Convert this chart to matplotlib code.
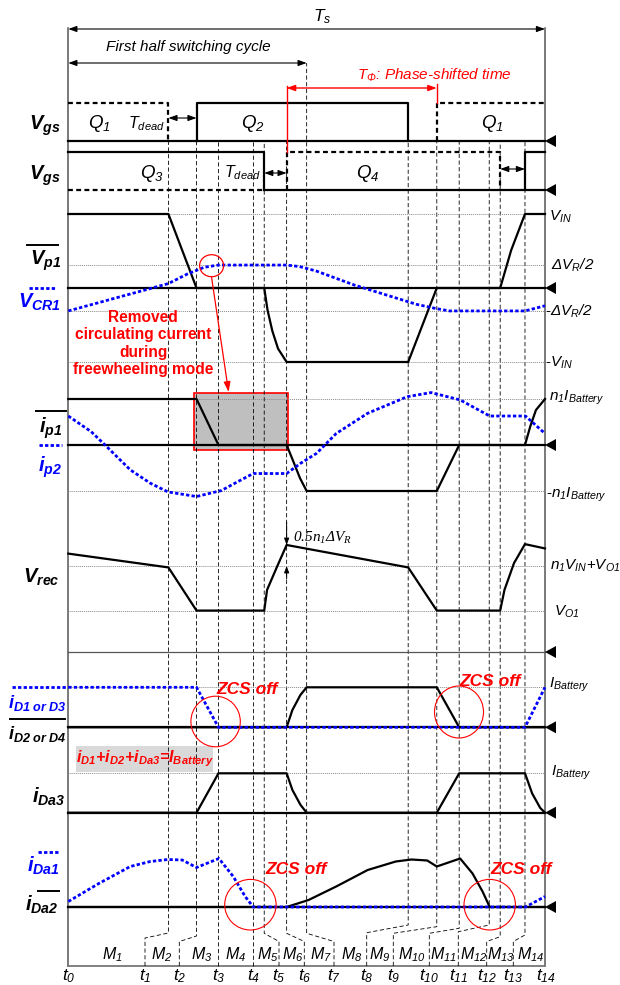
import matplotlib.pyplot as plt
from matplotlib.patches import Ellipse, Rectangle, Polygon

plt.rcParams['font.family'] = ['Liberation Sans', 'DejaVu Sans']
plt.rcParams['mathtext.fontset'] = 'custom'
plt.rcParams['mathtext.rm'] = 'Liberation Sans:italic'
plt.rcParams['mathtext.it'] = 'Liberation Sans:italic'
plt.rcParams['mathtext.bf'] = 'Liberation Sans:italic:bold'
plt.rcParams['mathtext.sf'] = 'Liberation Serif:italic'

# ---- data: time instants t0..t14 (fraction of Ts) ----
t_inst = [0, 0.210, 0.269, 0.315, 0.388, 0.411, 0.458, 0.500,
          0.713, 0.773, 0.820, 0.883, 0.906, 0.958, 1.0]

# gate signals (1 = on)
q1_a_t, q1_a_v = [0, 0.210, 0.210], [1, 1, 0]
q1_b_t, q1_b_v = [0.773, 0.773, 1], [0, 1, 1]
q2_t, q2_v = [0.269, 0.269, 0.713, 0.713], [0, 1, 1, 0]
q3_a_t, q3_a_v = [0, 0.411, 0.411], [1, 1, 0]
q3_b_t, q3_b_v = [0.958, 0.958, 1], [0, 1, 1]
q4_t, q4_v = [0.458, 0.458, 0.906, 0.906], [0, 1, 1, 0]

# primary voltage (VIN = 1) and resonant cap voltage
vp1_t = [0, .210, .269, .411, .418, .428, .440, .458, .713, .773, .906, .929, .958, 1]
vp1_v = [1, 1, 0, 0, -.30, -.58, -.82, -1, -1, 0, 0, .51, 1, 1]
vcr1_t = [0, .210, .250, .285, .315, .458, .485, .520, .600, .680, .730, .773, .800, .958, 1]
vcr1_v = [-.31, .06, .19, .28, .31, .31, .29, .23, .04, -.12, -.22, -.28, -.31, -.31, -.24]
dvr_half = 0.31

# primary currents (n1*IBattery = 1)
ip1_t = [0, .269, .315, .458, .471, .486, .500, .773, .820, .958, .969, .981, 1]
ip1_v = [1, 1, 0, 0, -.33, -.72, -1, -1, 0, 0, .40, .76, 1]
ip2_t = [0, .048, .081, .130, .172, .209, .269, .321, .355, .388, .458, .487, .521,
         .562, .628, .711, .761, .822, .884, .959, 1]
ip2_v = [.63, .29, -.04, -.54, -.83, -1.02, -1.12, -.99, -.80, -.62, -.62, -.40, -.18,
         .25, .69, 1.05, 1.14, .98, .63, .63, .25]

# rectifier voltage (n1*VIN + VO1 = 1)
vrec_t = [0, .210, .269, .411, .417, .438, .458, .713, .773, .906, .915, .935, .958, 1]
vrec_v = [1.14, .98, .48, .48, .72, .99, 1.24, .98, .48, .48, .72, 1.03, 1.25, 1.20]
vo1_lvl = 0.48

# diode currents (IBattery = 1)
id1_t, id1_v = [0, .269, .315, .958, 1], [1, 1, 0, 0, 1]
id2_t = [0, .458, .470, .487, .500, .773, .820, 1]
id2_v = [0, 0, .43, .81, 1, 1, 0, 0]
ida3_t = [0, .269, .315, .458, .470, .487, .500, .773, .820, .958, .973, .990, 1]
ida3_v = [0, 0, 1, 1, .58, .20, 0, 0, 1, 1, .49, .12, 0]
ida1_t = [0, .064, .130, .172, .209, .239, .269, .316, .346, .371, .388, .959, 1]
ida1_v = [.11, .47, .81, .91, .95, .94, .79, .97, .61, .21, 0, 0, .21]
ida2_t = [0, .458, .504, .562, .628, .687, .720, .753, .773, .822, .848, .869, .884, 1]
ida2_v = [0, 0, .14, .41, .74, .91, .95, .93, .81, .97, .67, .31, 0, 0]

m_labels = ['M%d' % i for i in range(1, 15)]
t_labels = ['t%d' % i for i in range(15)]

# ---- layout (pixels) ----
W, H = 620, 985
X0, X1 = 68.3, 545.0
SPAN = X1 - X0


def px2t(x):
    return (x - X0) / SPAN


fig = plt.figure(figsize=(6.2, 9.85), dpi=100)


def overlay():
    a = fig.add_axes([0, 0, 1, 1])
    a.set_xlim(px2t(0), px2t(W))
    a.set_ylim(H, 0)
    a.axis('off')
    a.patch.set_visible(False)
    return a


def panel(base, amp):
    a = fig.add_axes([0, 0, 1, 1])
    a.set_xlim(px2t(0), px2t(W))
    a.set_ylim((base - H) / amp, base / amp)
    a.axis('off')
    a.patch.set_visible(False)
    return a


axb = overlay()

BLK = 'black'
BLUE = '#0000ff'
RED = '#ff0000'
THICK = 1.6
DASH_K = (0, (2.2, 1.5))
DOT_B = (0, (1.2, 0.8))
THIN = (0, (5, 3))
REF = dict(color='#8a8a8a', lw=0.7, ls=(0, (1, 1)), zorder=1)

# frame lines and bottom axis
axb.plot([0, 0], [28, 966], color='#555555', lw=1.1)
axb.plot([1, 1], [28, 966], color='#555555', lw=1.1)
axb.plot([0, 1], [966, 966], color='#777777', lw=1.3)

# vertical dashed lines with dog-legs to the t labels
bot_x = [145, 179.3, 218.3, 253.3, 279, 304.3, 334, 366.7, 393.3, 429.3, 458.3, 486.7, 513.3]
kink_lo = [938, 941.5, 950, 950, 941.5, 941.5, 941.5, 932.7, 933.3, 933.3, 931.7, 941.5, 941.5]
kink_hi = [933, 936, 950, 950, 933.3, 933.3, 933.3, 925, 926.7, 928.3, 925, 936.7, 935]
for i in range(13):
    tt = t_inst[i + 1]
    top = 63 if i == 6 else 141
    bx = px2t(bot_x[i])
    axb.plot([bx, bx, tt, tt], [966, kink_lo[i], kink_hi[i], top],
             color=BLK, lw=0.6, ls=THIN)

# gray highlight box (circulating current) and sum-equation box
axb.add_patch(Rectangle((px2t(193.8), 392.7), (287.6 - 193.8) / SPAN, 57.3,
                        fc='#bfbfbf', ec=RED, lw=1.2, zorder=0))
axb.add_patch(Rectangle((px2t(76.3), 746), 136.5 / SPAN, 25.7,
                        fc='#d9d9d9', ec='none', zorder=0))

# ---- panels ----
p_g1 = panel(141, 38)
p_g1.plot([0, 1], [0, 0], color=BLK, lw=THICK)
p_g1.plot(q1_a_t, q1_a_v, color=BLK, lw=THICK, ls=DASH_K)
p_g1.plot(q1_b_t, q1_b_v, color=BLK, lw=THICK, ls=DASH_K)
p_g1.plot(q2_t, q2_v, color=BLK, lw=THICK)

p_g2 = panel(190, 38)
p_g2.plot([0, t_inst[5]], [0, 0], color=BLK, lw=THICK, ls=DASH_K)
p_g2.plot([t_inst[5], 1], [0, 0], color=BLK, lw=THICK)
p_g2.plot(q3_a_t, q3_a_v, color=BLK, lw=THICK)
p_g2.plot(q3_b_t, q3_b_v, color=BLK, lw=THICK)
p_g2.plot(q4_t, q4_v, color=BLK, lw=THICK, ls=DASH_K)

p_vp = panel(288, 74)
for lv in [1, dvr_half, -dvr_half, -1]:
    p_vp.plot([0, 1], [lv, lv], **REF)
p_vp.plot([0, 1], [0, 0], color=BLK, lw=THICK)
p_vp.plot(vp1_t, vp1_v, color=BLK, lw=THICK)
p_vp.plot(vcr1_t, vcr1_v, color=BLUE, lw=2, ls=DOT_B)

p_ip = panel(445, 46)
for lv in [1, -1]:
    p_ip.plot([0, 1], [lv, lv], **REF)
p_ip.plot([0, 1], [0, 0], color=BLK, lw=THICK)
p_ip.plot(ip1_t, ip1_v, color=BLK, lw=THICK)
p_ip.plot(ip2_t, ip2_v, color=BLUE, lw=2, ls=DOT_B)

p_vr = panel(652, 86.3)
for lv in [1, vo1_lvl]:
    p_vr.plot([0, 1], [lv, lv], **REF)
p_vr.plot([0, 1], [0, 0], color='#555555', lw=0.9)
p_vr.plot(vrec_t, vrec_v, color=BLK, lw=THICK)

p_id = panel(727.3, 40)
p_id.plot([0, 1], [1, 1], **REF)
p_id.plot([0, 1], [0, 0], color=BLK, lw=THICK)
p_id.plot(id2_t, id2_v, color=BLK, lw=THICK)
p_id.plot(id1_t, id1_v, color=BLUE, lw=2, ls=DOT_B)

p_a3 = panel(812.7, 39.4)
p_a3.plot([0, 1], [1, 1], **REF)
p_a3.plot([0, 1], [0, 0], color=BLK, lw=THICK)
p_a3.plot(ida3_t, ida3_v, color=BLK, lw=THICK)

p_da = panel(907, 50)
p_da.plot([0, 1], [0, 0], color=BLK, lw=THICK)
p_da.plot(ida2_t, ida2_v, color=BLK, lw=THICK)
p_da.plot(ida1_t, ida1_v, color=BLUE, lw=2, ls=DOT_B)

# ---- top overlay: text, arrows, circles ----
ax = overlay()


def arrow2(x1, x2, y, color=BLK, lw=0.8):
    ax.annotate('', xy=(x2, y), xytext=(x1, y),
                arrowprops=dict(arrowstyle='<|-|>,head_length=0.5,head_width=0.18',
                                color=color, lw=lw, shrinkA=0, shrinkB=0))


def tri(y):
    ax.add_patch(Polygon([(1, y), (px2t(X1 + 11), y - 6), (px2t(X1 + 11), y + 6)],
                         closed=True, fc=BLK, ec='none'))


for y in [141, 190, 288, 445, 652, 727.3, 812.7, 907]:
    tri(y)

# period / half-cycle / phase shift
ax.text(px2t(322), 17, r'$T_s$', fontsize=12.5, ha='center', va='center')
arrow2(0, 1, 29)
ax.text(px2t(188), 47, 'First half switching cycle', fontsize=11, style='italic',
        ha='center', va='center')
arrow2(0, t_inst[7], 63)
ax.text(px2t(434), 75, r'$T_{\Phi}$: Phase-shifted time', fontsize=11, style='italic',
        color=RED, ha='center', va='center')
arrow2(t_inst[6], t_inst[9], 88, color=RED, lw=1)
ax.plot([t_inst[6], t_inst[6]], [86, 152], color=RED, lw=1)
ax.plot([t_inst[9], t_inst[9]], [84, 103], color=RED, lw=1)

# gate labels
qs = dict(fontsize=13.5, ha='center', va='center')
ax.text(px2t(99), 124, r'$Q_1$', **qs)
ax.text(px2t(146), 124, r'$T_{dead}$', fontsize=11.5, ha='center', va='center')
ax.text(px2t(253), 124, r'$Q_2$', **qs)
ax.text(px2t(492.5), 124, r'$Q_1$', **qs)
ax.text(px2t(152.3), 173, r'$Q_3$', **qs)
ax.text(px2t(242), 173, r'$T_{dead}$', fontsize=11.5, ha='center', va='center')
ax.text(px2t(368), 173, r'$Q_4$', **qs)
arrow2(t_inst[1], t_inst[2], 118)
arrow2(t_inst[5], t_inst[6], 173)
arrow2(t_inst[12], t_inst[13], 169)

# left signal labels
LX = 61
lbl = dict(fontsize=14.5, ha='right', va='center')
ax.text(px2t(LX), 126, r'$\mathbf{V_{gs}}$', **lbl)
ax.text(px2t(LX), 176, r'$\mathbf{V_{gs}}$', **lbl)
ax.text(px2t(LX), 261, r'$\mathbf{V_{p1}}$', **lbl)
ax.plot([px2t(27), px2t(58)], [245, 245], color=BLK, lw=1.4)
ax.text(px2t(LX), 302, r'$\mathbf{V_{CR1}}$', color=BLUE, **lbl)
ax.plot([px2t(29), px2t(55)], [288, 288], color=BLUE, lw=2, ls=DOT_B)
ax.text(px2t(LX + 1), 428, r'$\mathbf{i_{p1}}$', **lbl)
ax.plot([px2t(36), px2t(65.5)], [410.7, 410.7], color=BLK, lw=1.4)
ax.text(px2t(LX + 1), 467, r'$\mathbf{i_{p2}}$', color=BLUE, **lbl)
ax.plot([px2t(39), px2t(62)], [445, 445], color=BLUE, lw=2, ls=DOT_B)
ax.text(px2t(LX - 1), 577, r'$\mathbf{V_{rec}}$', **lbl)
lbl_s = dict(fontsize=13, ha='right', va='center')
ax.plot([px2t(12), px2t(X0)], [687.3, 687.3], color=BLUE, lw=2, ls=DOT_B)
ax.text(px2t(66.5), 703, r'$\mathbf{i_{D1\ or\ D3}}$', color=BLUE, **lbl_s)
ax.plot([px2t(10), px2t(65)], [719.3, 719.3], color=BLK, lw=1.4)
ax.text(px2t(66.5), 734, r'$\mathbf{i_{D2\ or\ D4}}$', **lbl_s)
ax.text(px2t(65), 797, r'$\mathbf{i_{Da3}}$', **lbl)
ax.text(px2t(60), 866, r'$\mathbf{i_{Da1}}$', color=BLUE, **lbl)
ax.plot([px2t(38), px2t(59)], [852, 852], color=BLUE, lw=2, ls=DOT_B)
ax.text(px2t(59), 905, r'$\mathbf{i_{Da2}}$', **lbl)
ax.plot([px2t(38), px2t(58.5)], [891, 891], color=BLK, lw=1.4)

# right level labels
rl = dict(fontsize=11, ha='left', va='center')
ax.text(px2t(549), 217, r'$V_{IN}$', **rl)
ax.text(px2t(551), 265, r'$\Delta V_R/2$', **rl)
ax.text(px2t(545), 311, r'-$\Delta V_R/2$', **rl)
ax.text(px2t(545), 363, r'-$V_{IN}$', **rl)
ax.text(px2t(549), 398, r'$n_1I_{Battery}$', **rl)
ax.text(px2t(546), 495, r'-$n_1I_{Battery}$', **rl)
ax.text(px2t(550), 566, r'$n_1V_{IN}$+$V_{O1}$', **rl)
ax.text(px2t(554), 612, r'$V_{O1}$', **rl)
ax.text(px2t(549), 685, r'$I_{Battery}$', **rl)
ax.text(px2t(551), 773, r'$I_{Battery}$', **rl)

# removed circulating current annotation
ax.add_patch(Ellipse((px2t(211.6), 265.7), 24 / SPAN, 22, fill=False, ec=RED, lw=0.9))
ax.text(px2t(143), 343.5, 'Removed\ncirculating current\nduring\nfreewheeling mode',
        fontsize=11.2, fontweight='bold', color=RED, ha='center', va='center',
        linespacing=1.2)
ax.annotate('', xy=(px2t(228.6), 392), xytext=(px2t(211.6), 277.5),
            arrowprops=dict(arrowstyle='-|>,head_length=0.6,head_width=0.2',
                            color=RED, lw=0.9, shrinkA=0, shrinkB=0))

# 0.5 n1 dVR
ax.text(px2t(293), 538, r'$\mathsf{0.5n_1\Delta V_R}$', fontsize=11, ha='left', va='center')
ax.annotate('', xy=(t_inst[6], 545), xytext=(t_inst[6], 522),
            arrowprops=dict(arrowstyle='-|>,head_length=0.4,head_width=0.15',
                            color=BLK, lw=0.7, shrinkA=0, shrinkB=0))
ax.annotate('', xy=(t_inst[6], 566), xytext=(t_inst[6], 579),
            arrowprops=dict(arrowstyle='-|>,head_length=0.4,head_width=0.15',
                            color=BLK, lw=0.7, shrinkA=0, shrinkB=0))

# ZCS circles and notes
for cx, cy, rx, ry in [(215.6, 721.5, 24.7, 25.3), (459, 712, 24.5, 26),
                       (250.4, 904.7, 25.7, 25.3), (489.7, 904.7, 25.7, 25.3)]:
    ax.add_patch(Ellipse((px2t(cx), cy), 2 * rx / SPAN, 2 * ry, fill=False, ec=RED, lw=0.8))
zcs = dict(fontsize=12.5, fontweight='bold', style='italic', color=RED, ha='left', va='center')
ax.text(px2t(216), 689, 'ZCS off', **zcs)
ax.text(px2t(459), 681, 'ZCS off', **zcs)
ax.text(px2t(265), 869, 'ZCS off', **zcs)
ax.text(px2t(490), 869, 'ZCS off', **zcs)
ax.text(px2t(144.5), 759,
        r'$\mathbf{i_{D1}}$+$\mathbf{i_{D2}}$+$\mathbf{i_{Da3}}$=$\mathbf{I_{Battery}}$',
        fontsize=11.5, fontweight='bold', style='italic',
        color=RED, ha='center', va='center')

# mode and instant labels
m_x = [112.7, 161.7, 201.7, 236, 267.3, 292.7, 321, 351.7, 380, 411.7, 443.3, 473.3, 500.5, 530.5]
for x, s in zip(m_x, m_labels):
    ax.text(px2t(x), 955, r'$%s_{%s}$' % (s[0], s[1:]), fontsize=11.5, ha='center', va='center')
t_x = [69] + bot_x + [546]
for x, s in zip(t_x, t_labels):
    ax.text(px2t(x), 976, r'$%s_{%s}$' % (s[0], s[1:]), fontsize=12.5, ha='center', va='center')

fig.savefig('out.png', dpi=100)
